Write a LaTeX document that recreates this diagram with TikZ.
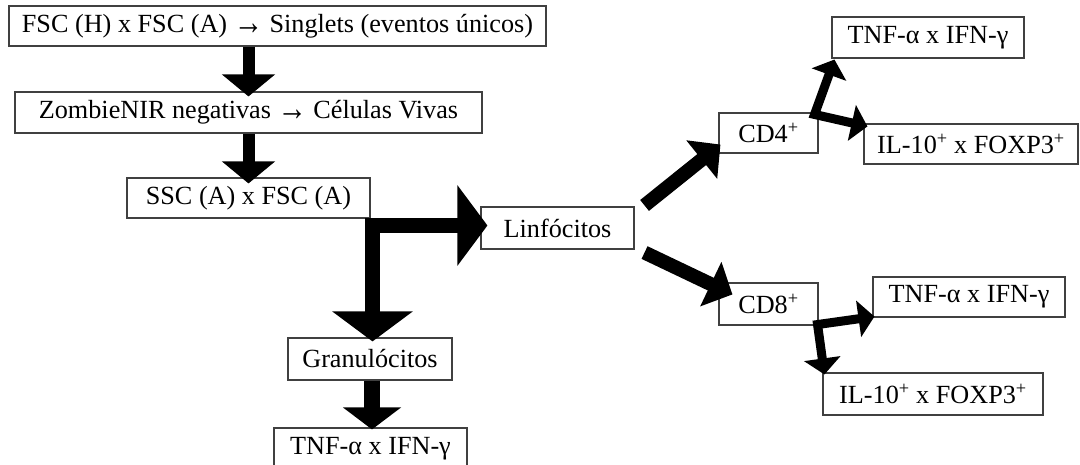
\documentclass[tikz,border=0pt]{standalone}
\usepackage{fontspec}
\setmainfont{Liberation Serif}
\usetikzlibrary{arrows.meta}
\newcommand{\rarrglyph}{\raisebox{-2pt}{\scalebox{1.12}[1.4]{\bfseries →}}}
\begin{document}
\begin{tikzpicture}[x=1pt,y=-1pt,
  box/.style={draw=black!75, line width=1.1pt, fill=white, inner sep=0pt,
              font=\fontsize{26.2}{30}\selectfont},
  bigarrow/.style={line width=12pt, -{Triangle[length=22pt,width=52pt]}},
  elbowbig/.style={line width=15pt, line join=miter,
              {Triangle[length=30pt,width=79pt]}-{Triangle[length=30pt,width=79pt]}},
  diagarrow/.style={line width=14pt, -{Triangle[length=24pt,width=48pt]}},
  elbowsmall/.style={line width=9pt, line join=miter,
              {Triangle[length=16pt,width=36pt]}-{Triangle[length=16pt,width=36pt]}},
]
\useasboundingbox (0,0) rectangle (1080,465);

% boxes
\node[box, minimum width=537pt, minimum height=40pt] (b1) at (277.5,26)
  {FSC (H) x FSC (A) \rarrglyph{} Singlets (eventos únicos)};
\node[box, minimum width=467pt, minimum height=41pt] (b2) at (248.5,112.5)
  {ZombieNIR negativas \rarrglyph{} Células Vivas};
\node[box, minimum width=243pt, minimum height=40pt] (b3) at (248.5,198)
  {SSC (A) x FSC (A)};
\node[box, minimum width=153pt, minimum height=42pt] (lin) at (557.5,228)
  {Linfócitos};
\node[box, minimum width=164pt, minimum height=42pt] (gran) at (370,359)
  {Granulócitos};
\node[box, minimum width=193pt, minimum height=41pt] (gtnf) at (370.5,448.5)
  {TNF-α x IFN-γ};
\node[box, minimum width=99pt, minimum height=40pt] (cd4) at (768.5,133)
  {CD4\textsuperscript{+}};
\node[box, minimum width=192pt, minimum height=41pt] (t4) at (928,37.5)
  {TNF-α x IFN-γ};
\node[box, minimum width=214pt, minimum height=40pt] (i4) at (971,144)
  {IL-10\textsuperscript{+} x FOXP3\textsuperscript{+}};
\node[box, minimum width=99pt, minimum height=42pt] (cd8) at (768.5,304)
  {CD8\textsuperscript{+}};
\node[box, minimum width=192pt, minimum height=40pt] (t8) at (969,297)
  {TNF-α x IFN-γ};
\node[box, minimum width=220pt, minimum height=42pt] (i8) at (933,394)
  {IL-10\textsuperscript{+} x FOXP3\textsuperscript{+}};

% connectors
\draw[bigarrow] (b2.north |- b1.south) -- ([yshift=-5pt]b2.north);
\draw[bigarrow] (b2.south) -- ([yshift=-6pt]b3.north);

\coordinate (e1) at (372.5,225.5);
\draw[elbowbig] ([yshift=-4pt]e1 |- gran.north) -- (e1) -- ([xshift=7pt]lin.west |- e1);

\draw[line width=16pt, -{Triangle[length=22pt,width=57pt]}]
  ([xshift=2pt]gran.south) -- ([xshift=1.5pt,yshift=-2pt]gtnf.north);

\draw[diagarrow] ([xshift=10pt,yshift=1pt]lin.north east) -- ([xshift=2pt,yshift=9pt]cd4.south west);
\draw[diagarrow] ([xshift=10pt,yshift=-3pt]lin.south east) -- ([xshift=14pt,yshift=-12pt]cd8.north west);

\coordinate (c4) at ([xshift=-4pt,yshift=-2pt]cd4.north east);
\draw[elbowsmall] ([xshift=3pt,yshift=-1pt]t4.south west) -- (c4) -- ([xshift=4pt,yshift=-3pt]i4.north west);

\coordinate (c8) at ([xshift=-1pt,yshift=1pt]cd8.south east);
\draw[elbowsmall] ([xshift=2pt,yshift=1pt]t8.south west) -- (c8) -- ([xshift=2pt,yshift=-2pt]i8.north west);
\end{tikzpicture}
\end{document}
